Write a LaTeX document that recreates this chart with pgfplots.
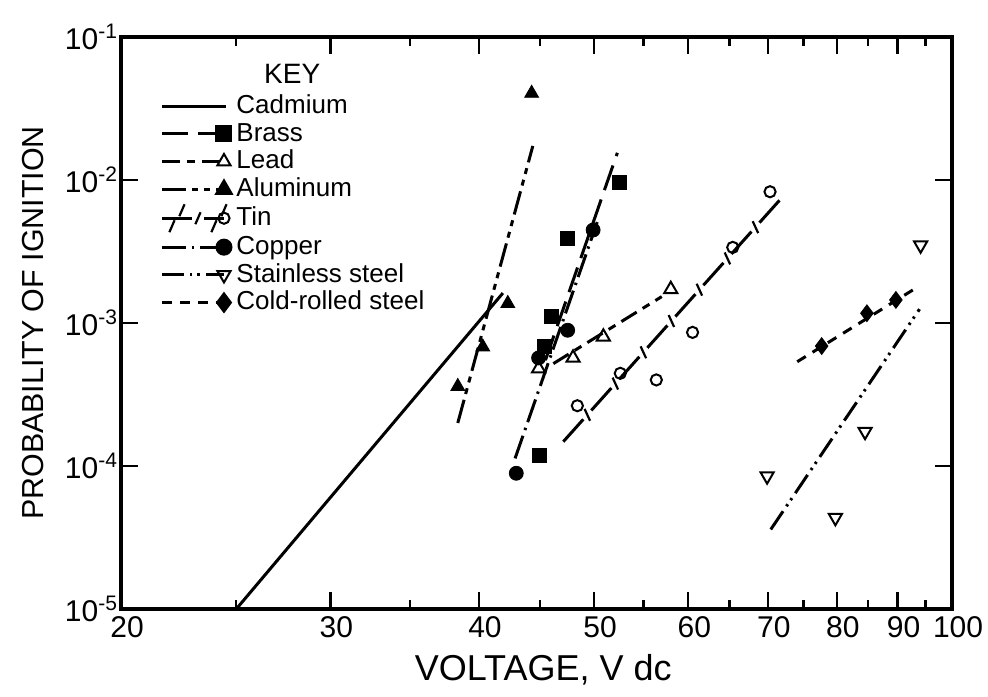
\documentclass[border=0pt]{standalone}
\usepackage{fontspec}
\setmainfont{Liberation Sans}
\usepackage{pgfplots}
\pgfplotsset{compat=1.18}
\usetikzlibrary{calc,decorations.markings}

\pgfplotsset{
  cadmium/.style={line width=1.5pt},
  brass/.style={line width=1.5pt, dash pattern=on 13pt off 5pt},
  lead/.style={line width=1.5pt, dash pattern=on 9pt off 3.5pt on 4pt off 3.5pt},
  alum/.style={line width=1.5pt, dash pattern=on 12pt off 3pt on 3pt off 3pt on 3pt off 3pt},
  tin/.style={line width=1.5pt, dash pattern=on 15pt off 6pt,
    postaction={decorate, decoration={markings,
      mark=between positions 18pt and -1pt step 21pt with {\draw[solid,line width=1.1pt] (-1.3pt,-3pt)--(1.3pt,3pt);}}}},
  copper/.style={line width=1.5pt, dash pattern=on 12pt off 3pt on 1.2pt off 3pt},
  stainless/.style={line width=1.5pt, dash pattern=on 11pt off 3pt on 1.2pt off 2.5pt on 1.2pt off 3pt},
  coldrolled/.style={line width=1.5pt, dash pattern=on 5pt off 4pt},
}

\begin{document}
\begin{tikzpicture}
\begin{axis}[
  scale only axis, width=415.5pt, height=286pt,
  xmode=log, ymode=log,
  xmin=20, xmax=100, ymin=1e-5, ymax=1e-1,
  xtick={20,30,40,50,60,70,80,90,100},
  xticklabels={20,30,40,50,60,70,80,90,100},
  minor xtick={25,35,45,55,65,75,85,95},
  ytick={1e-5,1e-4,1e-3,1e-2,1e-1},
  yticklabels={10\textsuperscript{-5},10\textsuperscript{-4},10\textsuperscript{-3},10\textsuperscript{-2},10\textsuperscript{-1}},
  yminorticks=false,
  /pgf/number format/assume math mode=true,
  axis line style={line width=2pt},
  every tick/.style={black, line width=1.2pt},
  major tick length=8.5pt, minor tick length=4.5pt,
  xticklabel style={font=\fontsize{15}{18}\selectfont, xshift=3pt},
  yticklabel style={font=\fontsize{15}{18}\selectfont, xshift=2pt},
  xlabel={VOLTAGE, V dc},
  ylabel={PROBABILITY OF IGNITION},
  xlabel style={font=\fontsize{18}{20}\selectfont, at={(rel axis cs:0.508,-0.107)}, anchor=center},
  ylabel style={font=\fontsize{15.2}{18}\selectfont, at={(rel axis cs:-0.106,0.5)}, anchor=center},
  legend image code/.code={
    \path[draw=none, fill=none] (0pt,-4pt) rectangle (35pt,4pt);
    \draw[#1, mark repeat=2, mark phase=2] plot coordinates {(0pt,0pt) (31pt,0pt)};},
  legend style={at={(rel axis cs:0.047,0.904)}, anchor=north west, draw=none, fill=none,
    inner sep=0pt, column sep=1.5pt, row sep=0pt,
    font=\fontsize{13}{14}\selectfont,
    nodes={inner sep=0pt, text height=10.5pt, text depth=3.35pt}},
  legend cell align=left,
]
% Cadmium
\addplot[cadmium, forget plot] coordinates {(25.0,1e-5) (41.9,1.62e-3)};
% Brass
\addplot[brass, forget plot] coordinates {(45.5,5.5e-4) (52.3,1.55e-2)};
\addplot[only marks, mark=square*, mark size=3.5pt, forget plot] coordinates {
  (45.0,1.19e-4) (45.4,6.9e-4) (46.0,1.11e-3) (47.5,3.91e-3) (52.5,9.57e-3)};
% Lead
\addplot[lead, forget plot] coordinates {(46.2,5.2e-4) (57.0,1.53e-3)};
\addplot[only marks, mark=triangle, mark size=3.8pt, mark options={line width=1pt}, forget plot] coordinates {
  (44.9,4.8e-4) (48.0,5.7e-4) (50.9,8.0e-4) (58.0,1.72e-3)};
% Aluminum
\addplot[alum, forget plot] coordinates {(38.4,2.0e-4) (44.4,1.73e-2)};
\addplot[only marks, mark=triangle*, mark size=4pt, forget plot] coordinates {
  (38.4,3.6e-4) (40.3,6.8e-4) (42.3,1.37e-3) (44.3,4.04e-2)};
% Tin
\addplot[tin, forget plot] coordinates {(47.1,1.48e-4) (71.9,7.5e-3)};
\addplot[only marks, mark=o, mark size=2.8pt, mark options={line width=1pt}, forget plot] coordinates {
  (48.4,2.64e-4) (52.6,4.45e-4) (56.4,4.0e-4) (60.5,8.6e-4) (65.4,3.38e-3) (70.3,8.28e-3)};
% Copper
\addplot[copper, forget plot] coordinates {(42.9,1.13e-4) (50.3,5.08e-3)};
\addplot[only marks, mark=*, mark size=3.5pt, forget plot] coordinates {
  (43.0,8.9e-5) (44.9,5.7e-4) (47.5,8.9e-4) (49.9,4.47e-3)};
% Stainless steel
\addplot[stainless, forget plot] coordinates {(70.4,3.6e-5) (93.9,1.25e-3)};
\addplot[only marks, mark=triangle, mark size=3.8pt, mark options={rotate=180, line width=1pt}, forget plot] coordinates {
  (69.9,8.5e-5) (79.8,4.35e-5) (84.5,1.74e-4) (94.1,3.5e-3)};
% Cold-rolled steel
\addplot[coldrolled, forget plot] coordinates {(74.1,5.36e-4) (93.7,1.80e-3)};
\addplot[only marks, mark=diamond*, mark size=4.2pt, forget plot] coordinates {
  (77.7,6.9e-4) (84.8,1.17e-3) (89.7,1.45e-3)};

\addlegendimage{legend image code/.code={
    \path[draw=none, fill=none] (0pt,-4pt) rectangle (35pt,4pt);
    \draw[white, mark=*, mark size=3.5pt] plot coordinates {(31pt,0pt)};
    \draw[black, solid, line width=1.5pt] (0pt,0pt) -- (32pt,0pt);}}
\addlegendentry{Cadmium}
\addlegendimage{brass, mark=square*, mark size=3.5pt, mark options={solid}}
\addlegendentry{Brass}
\addlegendimage{lead, mark=triangle, mark size=3.8pt, mark options={solid, line width=1pt}}
\addlegendentry{Lead}
\addlegendimage{alum, mark=triangle*, mark size=4pt, mark options={solid}}
\addlegendentry{Aluminum}
\addlegendimage{tin, mark=o, mark size=2.8pt, mark options={solid, line width=1pt}}
\addlegendentry{Tin}
\addlegendimage{copper, mark=*, mark size=3.5pt, mark options={solid}}
\addlegendentry{Copper}
\addlegendimage{stainless, mark=triangle, mark size=3.8pt, mark options={solid, rotate=180, line width=1pt}}
\addlegendentry{Stainless steel}
\addlegendimage{coldrolled, mark=diamond*, mark size=4.2pt, mark options={solid}}
\addlegendentry{Cold-rolled steel}

\node[font=\fontsize{14}{16}\selectfont] at (rel axis cs:0.206,0.935) {KEY};
\end{axis}
\pgfresetboundingbox
\path ($(current axis.south west)+(-60.5pt,-43.5pt)$) rectangle ($(current axis.north east)+(18pt,18.5pt)$);
\end{tikzpicture}
\end{document}
